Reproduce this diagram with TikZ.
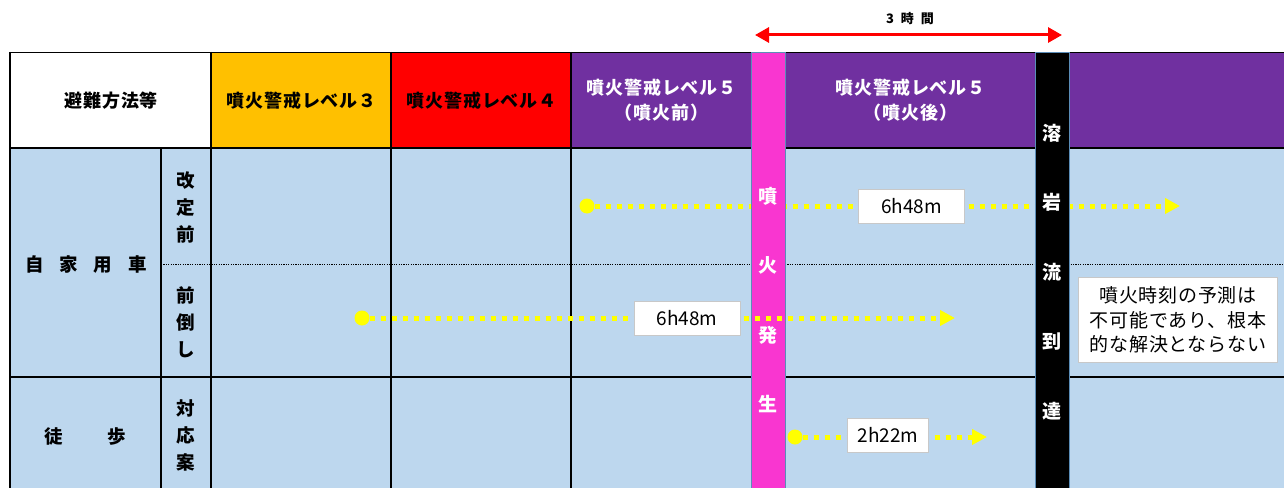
\documentclass[tikz,border=0pt]{standalone}
\usepackage{fontspec}
\setmainfont{Noto Sans CJK JP}
\usetikzlibrary{arrows.meta}
\definecolor{cellblue}{HTML}{BDD7EE}
\definecolor{lvthree}{HTML}{FFC000}
\definecolor{lvfour}{HTML}{FF0000}
\definecolor{lvfive}{HTML}{7030A0}
\definecolor{erupt}{HTML}{F936D0}
\definecolor{edgeblue}{HTML}{5B8DB8}
\definecolor{dotyellow}{HTML}{FFFF00}
\definecolor{arrowred}{HTML}{FF0000}
\definecolor{boxgray}{HTML}{C8C8C8}
\newcommand\hdrfont{\fontsize{18}{25}\selectfont\bfseries\addfontfeature{LetterSpace=5}}
\newcommand\lblfont{\fontsize{18.5}{27}\selectfont\bfseries}
\newcommand\barfont{\fontsize{19}{69.5}\selectfont\bfseries}
\newcommand\notefont{\fontsize{19}{24.5}\selectfont\addfontfeature{LetterSpace=4}}
\begin{document}
\begin{tikzpicture}[x=1pt,y=-1pt,
  hcell/.style={draw=black, line width=1.3pt, inner sep=0pt, anchor=north west, minimum height=96pt},
  grid/.style={draw=black, line width=1.3pt},
  rowsep/.style={draw=black, line width=0.9pt, dash pattern=on 1.2pt off 1.2pt},
  vlabel/.style={align=center, inner sep=0pt, font=\lblfont},
  bar/.style={draw=edgeblue, line width=0.6pt, inner sep=0pt, anchor=north west, minimum width=34pt, minimum height=445pt},
  bartext/.style={align=center, inner sep=0pt, text=white, font=\barfont},
  ydot/.style={circle, fill=dotyellow, inner sep=0pt, minimum size=15pt},
  yline/.style={draw=dotyellow, line width=5pt, dash pattern=on 5pt off 6pt, -{Triangle[length=15pt,width=15pt]}},
  tbox/.style={fill=white, draw=boxgray, line width=0.6pt, inner sep=0pt, minimum height=34pt, font=\fontsize{19}{22}\selectfont},
]
\useasboundingbox (0,0) rectangle (1284,487);
\clip (0,0) rectangle (1284,487);

% body background
\fill[cellblue] (10,148) rectangle (1290,495);

% header cells
\node[hcell, fill=white, minimum width=201pt] (hmethod) at (10,52) {};
\node[font=\hdrfont] (hmethodt) at (hmethod.center) {避難方法等};
\node[hcell, fill=lvthree, minimum width=180pt] (hthree) at (211,52) {};
\node[font=\hdrfont] (hthreet) at (hthree.center) {噴火警戒レベル３};
\node[hcell, fill=lvfour, minimum width=180pt] (hfour) at (391,52) {};
\node[font=\hdrfont] (hfourt) at (hfour.center) {噴火警戒レベル４};
\node[hcell, fill=lvfive, minimum width=180pt] (hfivea) at (571,52) {};
\node[font=\hdrfont, text=white, align=center] (hfiveat) at (hfivea.center) {噴火警戒レベル５\\（噴火前）};
\node[hcell, fill=lvfive, minimum width=250pt] (hfiveb) at (785,52) {};
\node[font=\hdrfont, text=white, align=center] (hfivebt) at (hfiveb.center) {噴火警戒レベル５\\（噴火後）};
\node[hcell, fill=lvfive, minimum width=230pt] (hlast) at (1069,52) {};

% grid lines
\draw[grid] (10,148) -- (1290,148);
\draw[grid] (10,377) -- (1290,377);
\draw[grid] (10,52) -- (10,495);
\draw[grid] (161,148) -- (161,495);
\draw[grid] (211,52) -- (211,495);
\draw[grid] (391,52) -- (391,495);
\draw[grid] (571,52) -- (571,495);
\draw[rowsep] (161,264) -- (1290,264);

% row labels
\node[inner sep=0pt, font=\lblfont] (car) at (86,265) {自\hspace{16pt}家\hspace{16pt}用\hspace{16pt}車};
\node[inner sep=0pt, font=\lblfont] (walk) at (85,437) {徒\hspace{45pt}歩};
\node[vlabel] (kaitei) at (186,207) {改\\定\\前};
\node[vlabel] (maedaoshi) at (186,322) {前\\倒\\し};
\node[vlabel] (taiou) at (186,435) {対\\応\\案};

% row 1 arrow (under the bars)
\node[ydot] (dA) at (587,206) {};
\coordinate (eA) at (1180,206);
\draw[yline] (dA) -- (eA);
\node[tbox, minimum width=106pt] (lA) at (911.5,206) {6h48m};

% bars
\node[bar, fill=erupt] (eruptbar) at (751,52) {};
\node[bartext] (erupttext) at (768,300) {噴\\火\\発\\生};
\node[bar, fill=black] (lavabar) at (1035,52) {};
\node[bartext] (lavatext) at (1052,272) {溶\\岩\\流\\到\\達};

% row 2 arrow
\node[ydot] (dB) at (362,318) {};
\coordinate (eB) at (955,318);
\draw[yline] (dB) -- (eB);
\node[tbox, minimum width=106pt] (lB) at (687,318) {6h48m};

% row 3 arrow
\node[ydot] (dC) at (795,437) {};
\coordinate (eC) at (987,437);
\draw[yline] (dC) -- (eC);
\node[tbox, minimum width=81pt] (lC) at (888,435) {2h22m};

% note
\node[fill=white, draw=boxgray, line width=0.6pt, inner sep=0pt, minimum width=199pt, minimum height=85pt, align=center, font=\notefont] (note) at (1178,320) {噴火時刻の予測は\\不可能であり、根本\\的な解決とならない};

% top time arrow
\coordinate (ta) at (755,35);
\coordinate (tb) at (1062,35);
\draw[draw=arrowred, line width=3pt, {Triangle[length=14pt,width=15pt]}-{Triangle[length=14pt,width=15pt]}] (ta) -- (tb);
\node[font=\fontsize{13}{15}\selectfont\bfseries, inner sep=0pt] (tlabel) at (910,19) {3\hspace{7pt}時\hspace{7pt}間};
\end{tikzpicture}
\end{document}
